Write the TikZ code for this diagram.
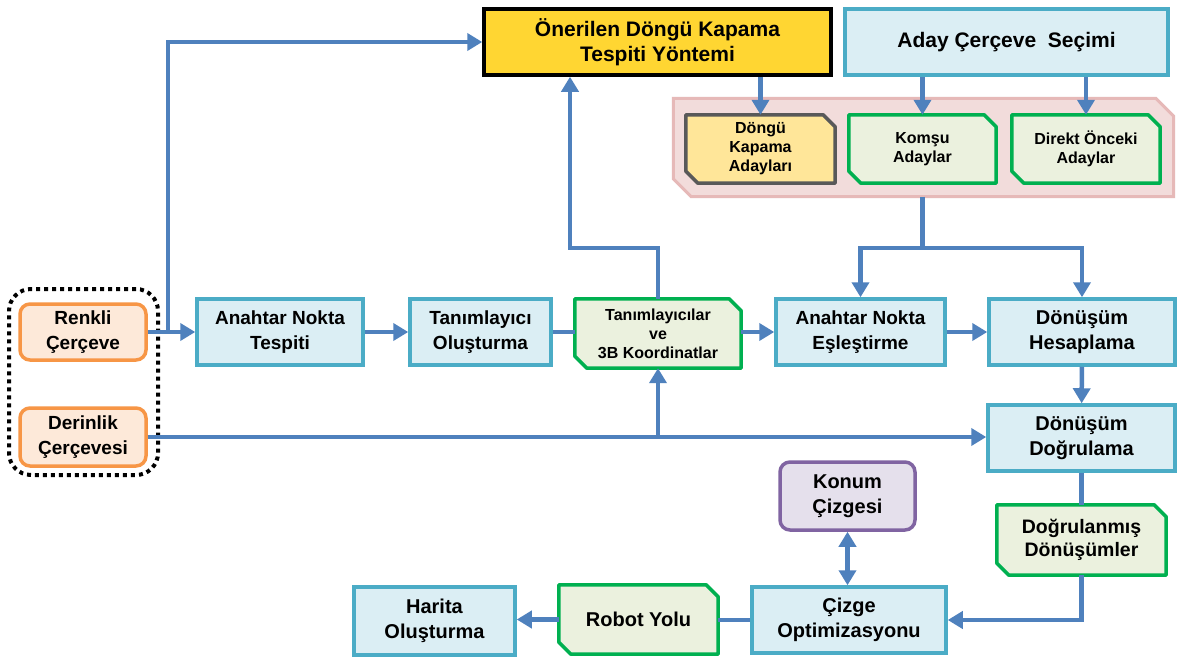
\documentclass[tikz,border=0pt]{standalone}
\usepackage{fontspec}
\setmainfont{Liberation Sans}
\usetikzlibrary{arrows.meta,calc}

\definecolor{flowblue}{RGB}{79,129,189}
\definecolor{boxfill}{RGB}{219,238,244}
\definecolor{boxline}{RGB}{75,172,198}
\definecolor{datafill}{RGB}{235,241,222}
\definecolor{dataline}{RGB}{0,176,80}
\definecolor{gold}{RGB}{255,214,50}
\definecolor{paleyellow}{RGB}{255,230,153}
\definecolor{darkgrey}{RGB}{89,89,89}
\definecolor{pinkfill}{RGB}{242,220,219}
\definecolor{pinkline}{RGB}{230,185,184}
\definecolor{orangeline}{RGB}{247,150,70}
\definecolor{orangefill}{RGB}{253,233,217}
\definecolor{purpleline}{RGB}{128,100,162}
\definecolor{purplefill}{RGB}{229,224,236}

\newcommand\fsTop{\fontsize{21}{25}\selectfont\bfseries}
\newcommand\fsSmall{\fontsize{16}{19}\selectfont\bfseries}
\newcommand\fsMid{\fontsize{19}{25}\selectfont\bfseries}
\newcommand\fsBig{\fontsize{20}{25}\selectfont\bfseries}
\newcommand\fsData{\fontsize{19.5}{23}\selectfont\bfseries}

% box with two snipped corners (top right, bottom left)
% #1 style, #2 name, #3 centre, #4 width, #5 height, #6 font, #7 text, #8 snip size
\newcommand\snipbox[8]{%
  \node[inner sep=0pt, minimum width=#4, minimum height=#5] (#2) at (#3) {};
  \draw[#1] (#2.north west) -- ($(#2.north east)+(-#8,0pt)$)
    -- ($(#2.north east)+(0pt,-#8)$) -- (#2.south east)
    -- ($(#2.south west)+(#8,0pt)$) -- ($(#2.south west)+(0pt,#8)$) -- cycle;
  \node[align=center, inner sep=0pt, font=#6] (#2-text) at (#2.center) {#7};
}

\tikzset{
  procbox/.style={draw=boxline, fill=boxfill, line width=3.5pt, inner sep=0pt,
    align=center, font=\fsMid},
  datastyle/.style={draw=dataline, fill=datafill, line width=3.5pt, line join=round},
  inputbox/.style={draw=orangeline, fill=orangefill, line width=3.5pt, rounded corners=10pt,
    inner sep=0pt, align=center, font=\fsMid, minimum width=126pt},
  flow/.style={draw=flowblue, line width=4.5pt},
  flowarrow/.style={flow, -{Triangle[length=15pt,width=17pt]}},
  flowboth/.style={flow, {Triangle[length=15pt,width=17pt]}-{Triangle[length=15pt,width=17pt]}},
}

\begin{document}
\begin{tikzpicture}[x=1pt,y=-1pt]
\useasboundingbox (0,0) rectangle (1179,659);
\fill[white] (0,0) rectangle (1179,659);

% top row
\node[draw=black, fill=gold, line width=3.5pt, inner sep=0pt, align=center, font=\fsTop,
  minimum width=347pt, minimum height=66pt] (prop) at (657.5,42)
  {Önerilen Döngü Kapama\\Tespiti Yöntemi};
\node[procbox, font=\fsTop, minimum width=323pt, minimum height=66pt] (aday) at (1006.5,42)
  {Aday Çerçeve\ \ Seçimi};

% candidate group
\snipbox{draw=pinkline, fill=pinkfill, line width=3pt}{cands}{923.5,147.5}{500pt}{98pt}{\fsSmall}{}{18pt}
\snipbox{draw=darkgrey, fill=paleyellow, line width=3.5pt, line join=round}{dka}{760.5,149}{149pt}{68pt}
  {\fsSmall}{Döngü\\Kapama\\Adayları}{12pt}
\snipbox{datastyle}{kom}{922.5,149}{147pt}{68pt}{\fsSmall}{Komşu\\Adaylar}{12pt}
\snipbox{datastyle}{dir}{1086,149}{148pt}{68pt}{\fsSmall}{Direkt Önceki\\Adaylar}{12pt}

% inputs
\node[draw=black, line width=4pt, dash pattern=on 4pt off 4pt, rounded corners=22pt,
  minimum width=149pt, minimum height=186pt] (inputs) at (83.5,382) {};
\node[inputbox, minimum height=56pt] (renkli) at (83,332) {Renkli\\Çerçeve};
\node[inputbox, minimum height=58pt] (derin) at (83,437) {Derinlik\\Çerçevesi};

% middle row
\node[procbox, minimum width=166pt, minimum height=66pt] (ant) at (280,332) {Anahtar Nokta\\Tespiti};
\node[procbox, minimum width=141pt, minimum height=66pt] (tan) at (480.5,332) {Tanımlayıcı\\Oluşturma};
\snipbox{datastyle}{tk}{658,333.5}{166pt}{69pt}{\fsSmall}{Tanımlayıcılar\\ve\\3B Koordinatlar}{12pt}
\node[procbox, minimum width=169pt, minimum height=66pt] (ane) at (860.5,332) {Anahtar Nokta\\Eşleştirme};
\node[procbox, font=\fsBig, minimum width=186pt, minimum height=66pt] (dh) at (1082,332) {Dönüşüm\\Hesaplama};
\node[procbox, font=\fsBig, minimum width=187pt, minimum height=66pt] (dd) at (1081.5,438) {Dönüşüm\\Doğrulama};

% lower part
\snipbox{datastyle}{dtr}{1081.5,540}{169pt}{70pt}{\fsData}{Doğrulanmış\\Dönüşümler}{12pt}
\node[draw=purpleline, fill=purplefill, line width=3.5pt, rounded corners=10pt, inner sep=0pt,
  align=center, font=\fsBig, minimum width=135pt, minimum height=68pt] (konum) at (847.5,496)
  {Konum\\Çizgesi};
\node[procbox, font=\fsBig, minimum width=194pt, minimum height=66pt] (cizge) at (849,620)
  {Çizge\\Optimizasyonu};
\snipbox{datastyle}{robot}{638.5,619.5}{159pt}{69pt}{\fsBig}{Robot Yolu}{12pt}
\node[procbox, font=\fsBig, minimum width=161pt, minimum height=68pt] (harita) at (434.5,621)
  {Harita\\Oluşturma};

% connectors
\coordinate (split) at (168,332);
\coordinate (loopup) at (570,248);
\coordinate (fork) at (922.5,248);

\draw[flowarrow] (renkli) -- (ant);
\draw[flowarrow] (split) |- (prop.west);
\draw[flowarrow] (ant) -- (tan);
\draw[flow] (tan.east) -- (tan.east -| tk.west);
\draw[flowarrow] (tk.east |- ane.west) -- (ane.west);
\draw[flowarrow] (tk.north) |- (loopup) -- (loopup |- prop.south);
\draw[flowarrow] (derin.east) -- (derin.east -| dd.west);
\draw[flowarrow] (derin.east -| tk.south) -- (tk.south);
\draw[flowarrow] (prop.south -| dka.north) -- (dka.north);
\draw[flowarrow] (aday.south -| kom.north) -- (kom.north);
\draw[flowarrow] (aday.south -| dir.north) -- (dir.north);
\draw[flow] (cands.south -| fork) -- (fork);
\draw[flowarrow] (fork) -| (ane.north);
\draw[flowarrow] (fork) -| (dh.north);
\draw[flowarrow] (ane) -- (dh);
\draw[flowarrow] (dh) -- (dd);
\draw[flow] (dd.south) -- (dd.south |- dtr.north);
\draw[flowarrow] (dtr.south) |- (cizge.east);
\draw[flowboth] (konum.south) -- (konum.south |- cizge.north);
\draw[flow] (cizge.west) -- (cizge.west -| robot.east);
\draw[flowarrow] (robot.west) -- (robot.west -| harita.east);
\end{tikzpicture}
\end{document}
